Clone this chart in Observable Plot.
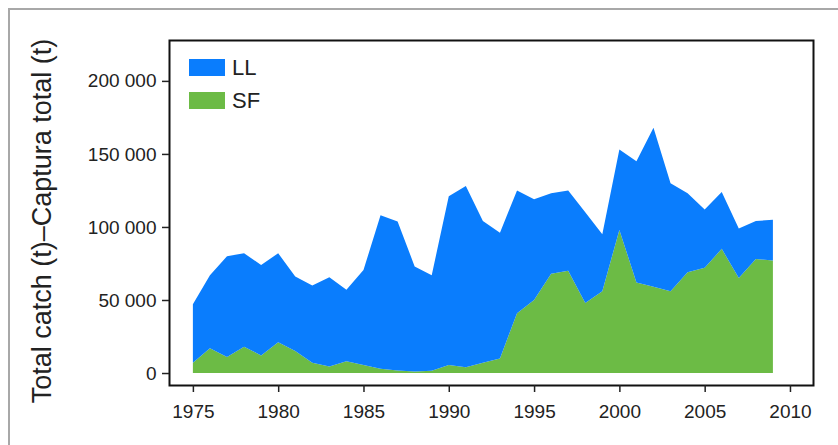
<!DOCTYPE html>
<html>
<head>
<meta charset="utf-8">
<script src="https://cdn.jsdelivr.net/npm/d3@7"></script>
<script src="https://cdn.jsdelivr.net/npm/@observablehq/plot@0.6"></script>
<style>
  html, body { margin: 0; padding: 0; background: #fff; }
  #wrap { position: relative; width: 838px; height: 445px; overflow: hidden; font-family: "Liberation Sans", Arial, sans-serif; }
  #border { position: absolute; left: 8px; top: 8px; width: 900px; height: 500px; border: 2px solid #a8a8a8; box-sizing: border-box; }
  #chart { position: absolute; left: 0; top: 0; }
  #legend { position: absolute; left: 189px; top: 51px; font-size: 22px; color: #222; }
  .item { display: flex; align-items: center; height: 33px; }
  .sw { width: 36px; height: 17px; margin-right: 7px; }
</style>
</head>
<body>
<div id="wrap">
  <div id="border"></div>
  <div id="chart"></div>
  <div id="legend"></div>
</div>
<script>
const years = [1975,1976,1977,1978,1979,1980,1981,1982,1983,1984,1985,1986,1987,1988,1989,1990,1991,1992,1993,1994,1995,1996,1997,1998,1999,2000,2001,2002,2003,2004,2005,2006,2007,2008,2009];
// SF catch (t)
const sf = [7000,17000,11000,18000,12000,21000,15000,7000,4500,8000,5500,3000,1800,1000,1500,5500,4000,7000,10000,41000,50000,68000,70000,48000,56000,98000,62000,59000,56000,69000,72000,85000,65000,78000,77000];
// LL catch (t)
const ll = [40000,50000,69000,64000,62000,61000,51000,53000,61000,49000,65000,105000,102000,72000,65500,115500,124000,97000,86000,84000,69000,55000,55000,62000,39000,55000,83000,109000,74000,54000,40000,39000,34000,26000,28000];
const seriesNames = ["SF", "LL"];
const seriesColors = ["#6cbb45", "#0a7dfd"];
const yTicks = [0, 50000, 100000, 150000, 200000];
const xTicks = [1975, 1980, 1985, 1990, 1995, 2000, 2005, 2010];
const yLabel = "Total catch (t)\u2013Captura total (t)";

const rows = [];
years.forEach((y, i) => {
  rows.push({year: y, gear: "SF", catch: sf[i]});
  rows.push({year: y, gear: "LL", catch: ll[i]});
});

const fmt = v => d3.format(",")(v).replace(/,/g, " ");

const chart = Plot.plot({
  width: 838,
  height: 445,
  marginLeft: 169,
  marginRight: 25,
  marginTop: 40,
  marginBottom: 60,
  style: {fontFamily: "'Liberation Sans', Arial, sans-serif", fontSize: "19px", color: "#222", background: "transparent"},
  x: {domain: [1973.6, 2011.35], ticks: xTicks, tickFormat: "d", label: null},
  y: {domain: [-8200, 228000], ticks: yTicks, tickFormat: fmt, label: null},
  color: {domain: seriesNames, range: seriesColors},
  marks: [
    Plot.areaY(rows, {x: "year", y: "catch", fill: "gear", order: seriesNames, curve: "linear"}),
    Plot.frame({stroke: "#111", strokeWidth: 2}),
    Plot.axisY({ticks: yTicks, tickFormat: fmt, tickSize: 7, tickPadding: 6, fontSize: 19, strokeWidth: 1.5, label: null}),
    Plot.axisX({ticks: xTicks, tickFormat: "d", tickSize: 7, tickPadding: 12, fontSize: 19, strokeWidth: 1.5, label: null}),
    Plot.text([yLabel], {frameAnchor: "left", dx: -127, dy: 8, rotate: -90, fontSize: 27, fill: "#222", textAnchor: "middle"})
  ]
});
document.getElementById("chart").appendChild(chart);

const legend = document.getElementById("legend");
["LL", "SF"].forEach(name => {
  const idx = seriesNames.indexOf(name);
  const div = document.createElement("div");
  div.className = "item";
  div.innerHTML = `<span class="sw" style="background:${seriesColors[idx]}"></span><span>${name}</span>`;
  legend.appendChild(div);
});
</script>
</body>
</html>
